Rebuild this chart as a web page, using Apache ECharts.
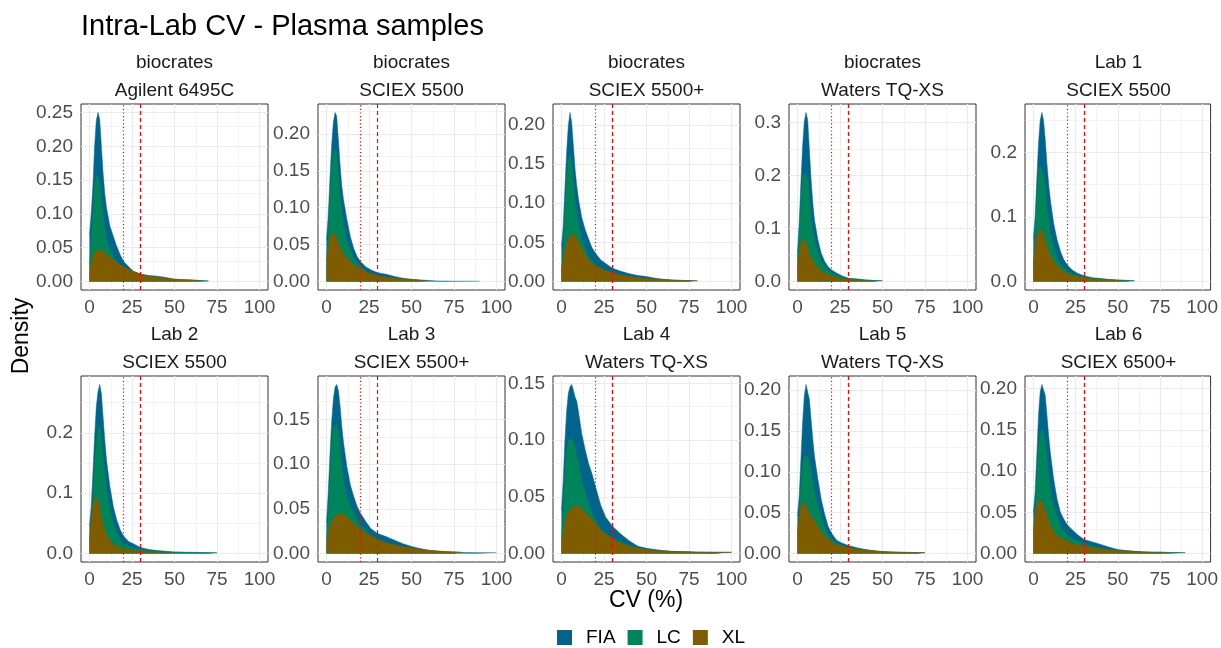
<!DOCTYPE html>
<html>
<head>
<meta charset="utf-8">
<script src="https://cdn.jsdelivr.net/npm/echarts@6/dist/echarts.min.js"></script>
<style>
html, body { margin: 0; padding: 0; background: #fff; }
#chart { width: 1221px; height: 648px; }
</style>
</head>
<body>
<div id="chart"></div>
<script>
// CV (%) sample points shared by every panel
var xs = [0, 1, 2, 3, 4, 5, 6, 7, 8, 9, 10, 12, 14, 16, 18, 20, 23, 26, 30, 35, 40, 45, 50, 55, 60, 65, 70, 75, 80, 90, 100];

var labNames = ['biocrates', 'biocrates', 'biocrates', 'biocrates', 'Lab 1', 'Lab 2', 'Lab 3', 'Lab 4', 'Lab 5', 'Lab 6'];
var instruments = ['Agilent 6495C', 'SCIEX 5500', 'SCIEX 5500+', 'Waters TQ-XS', 'SCIEX 5500', 'SCIEX 5500', 'SCIEX 5500+', 'Waters TQ-XS', 'Waters TQ-XS', 'SCIEX 6500+'];

var fiaData = [
	[0.069, 0.10, 0.141, 0.20, 0.238, 0.25, 0.24, 0.20, 0.16, 0.13, 0.109, 0.082, 0.067, 0.052, 0.04, 0.03, 0.022, 0.015, 0.011, 0.009, 0.008, 0.006, 0.0035, 0.0028, 0.002, 0.0015, 0.001, null, null, null, null],
	[0.057, 0.088, 0.138, 0.183, 0.215, 0.229, 0.224, 0.192, 0.158, 0.129, 0.111, 0.084, 0.061, 0.045, 0.034, 0.027, 0.02, 0.016, 0.012, 0.01, 0.007, 0.0045, 0.003, 0.002, 0.0015, 0.0008, 0.0006, 0.0005, 0.0005, 0.0005, null],
	[0.045, 0.071, 0.118, 0.165, 0.199, 0.216, 0.203, 0.173, 0.143, 0.122, 0.105, 0.081, 0.066, 0.054, 0.043, 0.036, 0.028, 0.023, 0.017, 0.013, 0.01, 0.0077, 0.0064, 0.0043, 0.003, 0.002, 0.0015, 0.0012, 0.001, null, null],
	[0.053, 0.11, 0.186, 0.255, 0.302, 0.319, 0.305, 0.248, 0.192, 0.148, 0.116, 0.079, 0.053, 0.038, 0.028, 0.022, 0.016, 0.011, 0.006, 0.005, 0.003, 0.002, 0.0015, null, null, null, null, null, null, null, null],
	[0.067, 0.10, 0.158, 0.214, 0.25, 0.262, 0.25, 0.22, 0.183, 0.152, 0.127, 0.09, 0.065, 0.047, 0.034, 0.026, 0.018, 0.013, 0.009, 0.006, 0.0047, 0.003, 0.002, 0.0015, 0.001, null, null, null, null, null, null],
	[0.045, 0.078, 0.133, 0.193, 0.243, 0.268, 0.28, 0.265, 0.226, 0.188, 0.155, 0.111, 0.078, 0.056, 0.04, 0.029, 0.02, 0.016, 0.01, 0.0066, 0.005, 0.0038, 0.0027, 0.0022, 0.002, 0.0018, 0.0015, 0.0012, null, null, null],
	[0.034, 0.067, 0.109, 0.146, 0.172, 0.186, 0.189, 0.182, 0.165, 0.142, 0.124, 0.097, 0.077, 0.064, 0.053, 0.045, 0.036, 0.028, 0.0225, 0.019, 0.015, 0.011, 0.008, 0.0056, 0.0038, 0.0026, 0.0019, 0.0015, 0.0011, 0.001, 0.001],
	[0.038, 0.064, 0.099, 0.125, 0.141, 0.147, 0.149, 0.144, 0.138, 0.134, 0.125, 0.105, 0.091, 0.079, 0.07, 0.059, 0.043, 0.032, 0.024, 0.017, 0.011, 0.0064, 0.0046, 0.0035, 0.0026, 0.002, 0.0017, 0.0015, 0.0012, 0.001, 0.001],
	[0.046, 0.07, 0.115, 0.16, 0.193, 0.207, 0.205, 0.189, 0.164, 0.14, 0.119, 0.091, 0.066, 0.048, 0.0335, 0.025, 0.0164, 0.013, 0.0098, 0.007, 0.0049, 0.0033, 0.002, 0.0016, 0.0014, 0.0012, 0.001, 0.001, null, null, null],
	[0.05, 0.074, 0.119, 0.168, 0.196, 0.205, 0.204, 0.192, 0.168, 0.143, 0.123, 0.09, 0.066, 0.05, 0.042, 0.035, 0.029, 0.023, 0.017, 0.014, 0.011, 0.0077, 0.0049, 0.0037, 0.0029, 0.002, 0.0016, 0.0016, 0.0013, 0.001, null]
];

var lcData = [
	[0.027, 0.06, 0.10, 0.14, 0.158, 0.156, 0.15, 0.12, 0.097, 0.077, 0.062, 0.047, 0.037, 0.03, 0.023, 0.02, 0.015, 0.011, 0.008, 0.006, 0.0045, 0.0035, 0.0025, 0.002, 0.0015, 0.0011, 0.0008, null, null, null, null],
	[0.029, 0.061, 0.111, 0.152, 0.174, 0.181, 0.17, 0.143, 0.115, 0.093, 0.077, 0.057, 0.041, 0.032, 0.025, 0.02, 0.014, 0.01, 0.008, 0.0055, 0.004, 0.003, 0.0023, 0.0015, 0.001, null, null, null, null, null, null],
	[0.015, 0.045, 0.092, 0.135, 0.156, 0.163, 0.152, 0.126, 0.105, 0.086, 0.071, 0.054, 0.041, 0.032, 0.026, 0.021, 0.017, 0.014, 0.011, 0.008, 0.0064, 0.005, 0.0038, 0.003, 0.002, 0.0015, 0.001, 0.0008, null, null, null],
	[0.041, 0.091, 0.148, 0.198, 0.204, 0.206, 0.195, 0.16, 0.123, 0.097, 0.079, 0.053, 0.038, 0.028, 0.022, 0.017, 0.012, 0.009, 0.006, 0.0045, 0.003, 0.002, 0.0015, null, null, null, null, null, null, null, null],
	[0.028, 0.075, 0.132, 0.171, 0.179, 0.178, 0.165, 0.142, 0.116, 0.093, 0.075, 0.052, 0.036, 0.027, 0.021, 0.017, 0.012, 0.009, 0.0067, 0.005, 0.004, 0.003, 0.0025, 0.002, 0.0015, null, null, null, null, null, null],
	[0.023, 0.056, 0.10, 0.144, 0.182, 0.204, 0.213, 0.193, 0.16, 0.13, 0.105, 0.073, 0.048, 0.034, 0.023, 0.018, 0.012, 0.0088, 0.0066, 0.005, 0.0038, 0.0027, 0.0022, 0.0018, 0.0016, 0.0015, 0.0014, 0.0012, null, null, null],
	[0.015, 0.045, 0.082, 0.12, 0.142, 0.144, 0.144, 0.135, 0.118, 0.097, 0.082, 0.064, 0.053, 0.045, 0.038, 0.032, 0.026, 0.021, 0.016, 0.012, 0.009, 0.0067, 0.0052, 0.0041, 0.003, 0.0022, 0.0019, 0.0015, 0.0012, null, null],
	[0.012, 0.041, 0.07, 0.091, 0.099, 0.1015, 0.1015, 0.099, 0.093, 0.086, 0.079, 0.064, 0.053, 0.044, 0.035, 0.03, 0.022, 0.018, 0.0136, 0.0099, 0.007, 0.0049, 0.0038, 0.0029, 0.0023, 0.0017, 0.0015, 0.0015, 0.0012, 0.0012, 0.0012],
	[0.025, 0.054, 0.083, 0.107, 0.119, 0.121, 0.119, 0.111, 0.099, 0.087, 0.074, 0.058, 0.044, 0.031, 0.023, 0.018, 0.013, 0.01, 0.0078, 0.0057, 0.0045, 0.0033, 0.0025, 0.002, 0.0016, 0.0014, 0.0012, 0.001, null, null, null],
	[0.027, 0.05, 0.09, 0.131, 0.147, 0.15, 0.147, 0.135, 0.115, 0.094, 0.078, 0.058, 0.044, 0.033, 0.027, 0.023, 0.018, 0.015, 0.012, 0.009, 0.0065, 0.0049, 0.0037, 0.0029, 0.0024, 0.002, 0.0016, 0.0016, 0.0013, 0.001, null]
];

var xlData = [
	[0.013, 0.027, 0.037, 0.045, 0.046, 0.046, 0.047, 0.046, 0.044, 0.042, 0.04, 0.036, 0.032, 0.029, 0.025, 0.022, 0.018, 0.015, 0.011, 0.008, 0.006, 0.005, 0.0035, 0.003, 0.0025, 0.0015, null, null, null, null, null],
	[0.025, 0.043, 0.057, 0.064, 0.067, 0.065, 0.059, 0.052, 0.046, 0.042, 0.038, 0.032, 0.027, 0.023, 0.019, 0.017, 0.014, 0.0105, 0.008, 0.006, 0.0045, 0.0035, 0.0027, 0.002, 0.0012, null, null, null, null, null, null],
	[0.013, 0.028, 0.041, 0.048, 0.054, 0.058, 0.061, 0.061, 0.059, 0.055, 0.051, 0.042, 0.034, 0.028, 0.024, 0.02, 0.017, 0.014, 0.011, 0.0086, 0.0064, 0.005, 0.0038, 0.003, 0.0025, 0.002, 0.0015, 0.0012, 0.001, null, null],
	[0.025, 0.053, 0.072, 0.082, 0.079, 0.072, 0.063, 0.053, 0.046, 0.04, 0.035, 0.026, 0.02, 0.016, 0.013, 0.011, 0.0075, 0.0057, 0.0044, 0.003, 0.002, 0.001, null, null, null, null, null, null, null, null, null],
	[0.023, 0.054, 0.07, 0.078, 0.081, 0.08, 0.072, 0.062, 0.054, 0.047, 0.041, 0.032, 0.025, 0.02, 0.0155, 0.013, 0.01, 0.0078, 0.0057, 0.0041, 0.003, 0.0026, 0.002, 0.0015, null, null, null, null, null, null, null],
	[0.018, 0.056, 0.078, 0.092, 0.095, 0.089, 0.078, 0.062, 0.048, 0.039, 0.031, 0.021, 0.016, 0.012, 0.0093, 0.0077, 0.006, 0.005, 0.0038, 0.0027, 0.002, 0.0015, 0.001, null, null, null, null, null, null, null, null],
	[0.011, 0.022, 0.03, 0.036, 0.039, 0.041, 0.043, 0.044, 0.045, 0.045, 0.044, 0.041, 0.0375, 0.034, 0.03, 0.027, 0.023, 0.02, 0.016, 0.012, 0.0097, 0.0075, 0.006, 0.0049, 0.0037, 0.003, 0.0022, 0.0019, 0.0015, null, null],
	[0.008, 0.018, 0.027, 0.034, 0.035, 0.038, 0.04, 0.041, 0.042, 0.043, 0.042, 0.039, 0.036, 0.033, 0.03, 0.027, 0.021, 0.017, 0.0128, 0.0093, 0.0064, 0.0046, 0.0035, 0.0026, 0.002, 0.0017, 0.0015, 0.0013, 0.0012, 0.001, 0.001],
	[0.023, 0.046, 0.058, 0.063, 0.061, 0.058, 0.054, 0.05, 0.046, 0.043, 0.04, 0.0335, 0.027, 0.022, 0.017, 0.014, 0.011, 0.009, 0.007, 0.0053, 0.004, 0.0033, 0.0025, 0.002, 0.0016, 0.0014, 0.0012, 0.001, null, null, null],
	[0.023, 0.046, 0.058, 0.064, 0.066, 0.064, 0.058, 0.052, 0.046, 0.04, 0.035, 0.027, 0.022, 0.019, 0.017, 0.015, 0.012, 0.0106, 0.009, 0.0069, 0.0057, 0.0045, 0.0037, 0.0029, 0.0024, 0.002, 0.0016, 0.0014, 0.0012, null, null]
];

// tick labels
var xTicks = [0, 25, 50, 75, 100];
var yTicks = [
	[0, 0.05, 0.10, 0.15, 0.20, 0.25],
	[0, 0.05, 0.10, 0.15, 0.20],
	[0, 0.05, 0.10, 0.15, 0.20],
	[0, 0.1, 0.2, 0.3],
	[0, 0.1, 0.2],
	[0, 0.1, 0.2],
	[0, 0.05, 0.10, 0.15],
	[0, 0.05, 0.10, 0.15],
	[0, 0.05, 0.10, 0.15, 0.20],
	[0, 0.05, 0.10, 0.15, 0.20]
];
var yDigits = [2, 2, 2, 1, 1, 1, 2, 2, 2, 2];
var cutoffs = [20, 30];

var chart = echarts.init(document.getElementById('chart'));
var font = '"Liberation Sans", Arial, sans-serif';
var names = ['FIA', 'LC', 'XL'];
var colors = ['#00648c', '#008459', '#7f5c00'];
var allData = [fiaData, lcData, xlData];
var panelLefts = [81, 318, 553, 789, 1025], panelTops = [104, 376], pw = 187, ph = 186;

var grids = [], xAxes = [], yAxes = [], series = [], graphics = [];

function addPanel(p) {
	var px = panelLefts[p % 5], py = panelTops[Math.floor(p / 5)];
	grids.push({
		left: px, top: py, width: pw, height: ph,
		show: true, borderColor: '#333', borderWidth: 1, backgroundColor: '#fff'
	});

	var ymax = 0;
	allData.forEach(function (d) {
		d[p].forEach(function (v) { if (v != null && v > ymax) ymax = v; });
	});
	var ymin = -0.05 * ymax;
	ymax = ymax * 1.05;
	var dig = yDigits[p];

	xAxes.push({
		gridIndex: p, type: 'value', min: -5, max: 105,
		axisLine: { show: false }, splitLine: { show: false },
		axisTick: { show: true, customValues: xTicks, length: 4, lineStyle: { color: '#333' } },
		axisLabel: { customValues: xTicks, margin: 8, color: '#4d4d4d', fontSize: 19, fontFamily: font }
	});
	yAxes.push({
		gridIndex: p, type: 'value', min: ymin, max: ymax,
		axisLine: { show: false }, splitLine: { show: false },
		axisTick: { show: true, customValues: yTicks[p], length: 4, lineStyle: { color: '#333' } },
		axisLabel: {
			customValues: yTicks[p], margin: 8, color: '#4d4d4d', fontSize: 19, fontFamily: font,
			formatter: function (v) { return v.toFixed(dig); }
		}
	});

	// panel grid lines, major and minor, kept under the areas
	var gl = [];
	var yt = yTicks[p], ystep = yt[1] - yt[0];
	xTicks.forEach(function (v, i) {
		gl.push({ xAxis: v, lineStyle: { width: 1.2 } });
		if (i < xTicks.length - 1) gl.push({ xAxis: v + 12.5, lineStyle: { width: 0.6 } });
	});
	yt.forEach(function (v) {
		gl.push({ yAxis: v, lineStyle: { width: 1.2 } });
		if (v + ystep / 2 < ymax) gl.push({ yAxis: v + ystep / 2, lineStyle: { width: 0.6 } });
	});
	series.push({
		type: 'line', xAxisIndex: p, yAxisIndex: p, data: [], z: 1, silent: true,
		markLine: {
			z: 1, silent: true, symbol: ['none', 'none'], label: { show: false }, animation: false,
			lineStyle: { color: '#ebebeb', type: 'solid' }, emphasis: { disabled: true },
			data: gl
		}
	});

	names.forEach(function (nm, k) {
		var pts = [];
		allData[k][p].forEach(function (v, i) { if (v != null) pts.push([xs[i], v]); });
		series.push({
			name: nm, type: 'line', xAxisIndex: p, yAxisIndex: p, z: 3 + k,
			color: colors[k], symbol: 'none', showSymbol: false, silent: true,
			lineStyle: { width: 0.5, color: colors[k] },
			itemStyle: { color: colors[k] },
			areaStyle: { color: colors[k], opacity: 1 },
			data: pts
		});
	});

	series.push({
		type: 'line', xAxisIndex: p, yAxisIndex: p, data: [], z: 10, silent: true,
		markLine: {
			z: 10, silent: true, symbol: ['none', 'none'], label: { show: false }, animation: false,
			emphasis: { disabled: true },
			data: [
				{ xAxis: cutoffs[0], lineStyle: { color: '#ff0000', width: 1.2, type: [1.2, 2.4] } },
				{ xAxis: cutoffs[1], lineStyle: { color: '#ff0000', width: 1.2, type: [4, 3] } }
			]
		}
	});

	graphics.push({
		type: 'text', x: px + pw / 2, y: py - 41, silent: true,
		style: { text: labNames[p], fill: '#1a1a1a', font: '19px ' + font, textAlign: 'center', textVerticalAlign: 'middle' }
	});
	graphics.push({
		type: 'text', x: px + pw / 2, y: py - 13, silent: true,
		style: { text: instruments[p], fill: '#1a1a1a', font: '19px ' + font, textAlign: 'center', textVerticalAlign: 'middle' }
	});
}

for (var p = 0; p < 10; p++) addPanel(p);

graphics.push({
	type: 'text', x: 81, y: 27, silent: true,
	style: { text: 'Intra-Lab CV - Plasma samples', fill: '#000', font: '29px ' + font, textAlign: 'left', textVerticalAlign: 'middle' }
});
graphics.push({
	type: 'text', x: 646, y: 601, silent: true,
	style: { text: 'CV (%)', fill: '#000', font: '23px ' + font, textAlign: 'center', textVerticalAlign: 'middle' }
});
graphics.push({
	type: 'text', x: 22, y: 336, rotation: Math.PI / 2, silent: true,
	style: { text: 'Density', fill: '#000', font: '23px ' + font, textAlign: 'center', textVerticalAlign: 'middle' }
});

chart.setOption({
	animation: false,
	backgroundColor: '#fff',
	grid: grids,
	xAxis: xAxes,
	yAxis: yAxes,
	series: series,
	graphic: graphics,
	legend: {
		data: names, left: 557, top: 628, padding: 0, itemWidth: 15, itemHeight: 15, itemGap: 12,
		icon: 'rect', selectedMode: false,
		textStyle: { fontSize: 19, color: '#000', fontFamily: font, padding: [0, 0, 0, 9] }
	}
});
</script>
</body>
</html>
